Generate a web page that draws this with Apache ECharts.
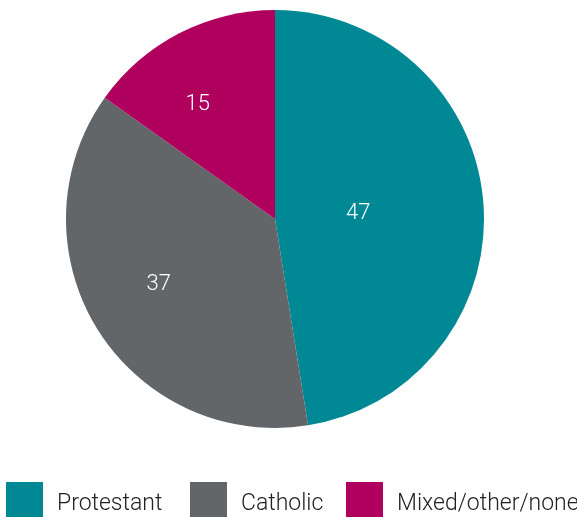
<!DOCTYPE html>
<html>
<head>
<meta charset="utf-8">
<script src="https://cdn.jsdelivr.net/npm/echarts@6/dist/echarts.min.js"></script>
<style>
  html, body { margin: 0; padding: 0; background: #fff; }
  #chart { width: 577px; height: 517px; }
</style>
</head>
<body>
<div id="chart"></div>
<script>
// Religious background shares (%)
const categories = ['Protestant', 'Catholic', 'Mixed/other/none'];
const values = [47, 37, 15];
const colors = ['#008894', '#636669', '#b0005e'];
// Per-slice nudges for the value labels
const labelOffsets = [[-24, 3], [-25, 9], [-28, -19]];
const legendLefts = [6, 190, 346];

const chart = echarts.init(document.getElementById('chart'), null, { renderer: 'canvas' });

const font = 'Roboto, "Liberation Sans", sans-serif';

const data = categories.map((name, i) => ({
  name,
  value: values[i],
  itemStyle: { color: colors[i] },
  label: { offset: labelOffsets[i] }
}));

const legends = categories.map((name, i) => ({
  data: [name],
  left: legendLefts[i],
  top: 482,
  orient: 'horizontal',
  icon: 'rect',
  itemWidth: 37,
  itemHeight: 36,
  padding: 0,
  selectedMode: false,
  formatter: '{t|{name}}',
  textStyle: {
    fontFamily: font,
    fontWeight: 300,
    fontSize: 23,
    color: '#222',
    rich: {
      t: {
        fontFamily: font,
        fontWeight: 300,
        fontSize: 23,
        color: '#222',
        padding: [8, 0, 0, 9]
      }
    }
  }
}));

chart.setOption({
  animation: false,
  legend: legends,
  series: [{
    type: 'pie',
    center: [275, 219],
    radius: [0, 209],
    startAngle: 90,
    clockwise: true,
    data,
    itemStyle: { borderWidth: 0 },
    label: {
      show: true,
      position: 'inside',
      formatter: '{c}',
      color: '#fff',
      fontFamily: font,
      fontWeight: 300,
      fontSize: 22
    },
    labelLine: { show: false },
    emphasis: { disabled: true }
  }]
});
</script>
</body>
</html>
